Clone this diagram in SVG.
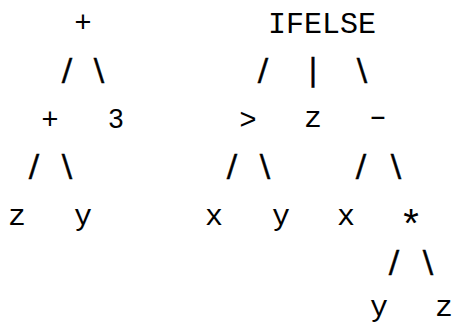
<svg xmlns="http://www.w3.org/2000/svg" width="454" height="324" viewBox="0 0 454 324">
<style>
text { fill: #000; text-anchor: middle; }
.t { font-family: "Liberation Mono", "DejaVu Sans Mono", monospace; font-size: 30px; }
.s { font-family: "Liberation Sans", Arial, sans-serif; font-size: 29px; }
.n { font-family: "Liberation Sans", Arial, sans-serif; font-size: 27px; }
.a { font-family: "Liberation Sans", Arial, sans-serif; font-size: 40px; }
.e { font-family: "DejaVu Sans", sans-serif; font-size: 31px; stroke: #000; stroke-width: 0.4px; }
</style>
<rect width="454" height="324" fill="#fff"/>
<g id="connectors">
  <text class="e" x="67" y="80">/</text>
  <text class="e" x="99" y="80">\</text>
  <text class="e" x="263" y="80">/</text>
  <text class="e" x="313" y="80">|</text>
  <text class="e" x="362" y="80">\</text>
  <text class="e" x="34" y="176">/</text>
  <text class="e" x="67" y="176">\</text>
  <text class="e" x="232" y="176">/</text>
  <text class="e" x="265" y="176">\</text>
  <text class="e" x="361" y="176">/</text>
  <text class="e" x="396" y="176">\</text>
  <text class="e" x="394" y="272">/</text>
  <text class="e" x="428" y="272">\</text>
</g>
<g id="n-plus-root"><text class="s" x="83" y="32">+</text></g>
<g id="n-ifelse"><text class="t" x="322" y="33">IFELSE</text></g>
<g id="n-plus"><text class="s" x="50" y="129">+</text></g>
<g id="n-3"><text class="n" x="116" y="128">3</text></g>
<g id="n-gt"><text class="s" x="248" y="129">&gt;</text></g>
<g id="n-z1"><text class="t" x="313" y="127">z</text></g>
<g id="n-minus"><text class="s" transform="translate(378,126) scale(1.8,1)" x="0" y="0">-</text></g>
<g id="n-z2"><text class="t" x="17" y="225">z</text></g>
<g id="n-y1"><text class="t" x="83" y="225">y</text></g>
<g id="n-x1"><text class="t" x="214" y="225">x</text></g>
<g id="n-y2"><text class="t" x="281" y="225">y</text></g>
<g id="n-x2"><text class="t" x="346" y="225">x</text></g>
<g id="n-star"><text class="a" x="411" y="237">*</text></g>
<g id="n-y3"><text class="t" x="379" y="316">y</text></g>
<g id="n-z3"><text class="t" x="444" y="316">z</text></g>
</svg>
